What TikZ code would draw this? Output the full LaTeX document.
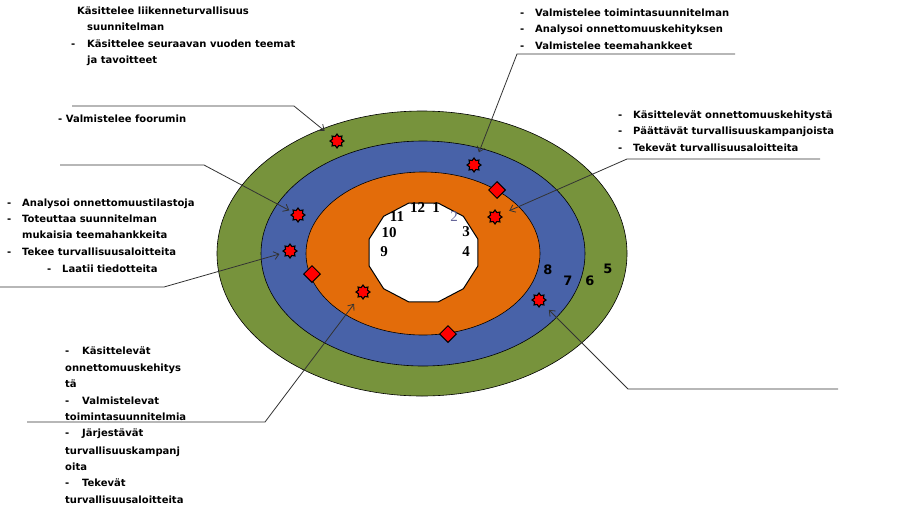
\documentclass[tikz,border=0pt]{standalone}
\usepackage{fontspec}
\setmainfont{DejaVu Sans}
\newfontfamily\numserif{Liberation Serif}
\usetikzlibrary{shapes.geometric,arrows.meta}
\definecolor{ringgreen}{HTML}{77933C}
\definecolor{ringblue}{HTML}{4862A8}
\definecolor{ringorange}{HTML}{E36C0A}
\definecolor{linegray}{HTML}{333333}
\newcommand{\dsh}{\makebox[15pt][l]{-}}
\tikzset{
  lbl/.style={anchor=base west,inner sep=0pt,font=\fontsize{10}{11}\selectfont\bfseries},
  numS/.style={inner sep=0pt,font=\fontsize{15}{15}\selectfont\numserif\bfseries},
  numD/.style={inner sep=0pt,font=\fontsize{13}{13}\selectfont\bfseries},
  starmark/.style={star,star points=8,star point ratio=1.45,minimum size=14pt,inner sep=0pt,fill=red,draw=black,line width=1.1pt},
  diamark/.style={diamond,minimum size=17pt,inner sep=0pt,fill=red,draw=black,line width=1pt},
  conn/.style={draw=linegray,line width=0.8pt,-{Straight Barb[length=5pt,width=8pt]}},
  ring/.style={draw=black,line width=0.6pt}
}
\begin{document}
\begin{tikzpicture}[x=1pt,y=-1pt]
\useasboundingbox[fill=white] (0,0) rectangle (904,507);
% rings
\path[ring,fill=ringgreen] (422,253.5) ellipse [x radius=205,y radius=142.5];
\path[ring,fill=ringblue] (423,253.5) ellipse [x radius=162,y radius=112.5];
\path[ring,fill=ringorange] (423,253.5) ellipse [x radius=117,y radius=81.5];
\draw[fill=white,line width=1pt]
  (423.5,252.5) +(15:56.4 and 51.2) -- +(45:56.4 and 51.2) -- +(75:56.4 and 51.2) -- +(105:56.4 and 51.2)
  -- +(135:56.4 and 51.2) -- +(165:56.4 and 51.2) -- +(195:56.4 and 51.2) -- +(225:56.4 and 51.2)
  -- +(255:56.4 and 51.2) -- +(285:56.4 and 51.2) -- +(315:56.4 and 51.2) -- +(345:56.4 and 51.2) -- cycle;
% clock numbers
\node[numS] (n12) at (417.5,208) {12};
\node[numS] (n1) at (436,208) {1};
\node[numS,font=\fontsize{15}{15}\selectfont\numserif,text=gray!80!blue] (n2) at (454,217) {2};
\node[numS] (n3) at (466,232) {3};
\node[numS] (n4) at (466,252) {4};
\node[numS] (n11) at (397,217) {11};
\node[numS] (n10) at (389,233) {10};
\node[numS] (n9) at (384,252) {9};
\node[numD] (n8) at (548,270) {8};
\node[numD] (n7) at (568,281) {7};
\node[numD] (n6) at (590,281) {6};
\node[numD] (n5) at (608,269) {5};
% markers
\node[starmark] (s1) at (337,141) {};
\node[starmark] (s2) at (474,165) {};
\node[starmark] (s3) at (495,217) {};
\node[starmark] (s4) at (298,215) {};
\node[starmark] (s5) at (290,251) {};
\node[starmark] (s6) at (363,292) {};
\node[starmark] (s7) at (539,300) {};
\node[diamark] (d1) at (497,190) {};
\node[diamark] (d2) at (312,274) {};
\node[diamark] (d3) at (448,334) {};
% text: top left
\node[lbl] (tl1) at (77,14.5) {Käsittelee liikenneturvallisuus};
\node[lbl] (tl2) at (87,30.5) {suunnitelman};
\node[lbl] (tl3) at (71,47.5) {\makebox[16pt][l]{-}Käsittelee seuraavan vuoden teemat};
\node[lbl] (tl4) at (87,63.5) {ja tavoitteet};
\node[lbl] (fo) at (58,122.5) {- Valmistelee foorumin};
% text: top right
\node[lbl] (tr1) at (520,16.5) {\dsh Valmistelee toimintasuunnitelman};
\node[lbl] (tr2) at (520,32.5) {\dsh Analysoi onnettomuuskehityksen};
\node[lbl] (tr3) at (520,49.5) {\dsh Valmistelee teemahankkeet};
% text: right
\node[lbl] (r1) at (618,118.5) {\dsh Käsittelevät onnettomuuskehitystä};
\node[lbl] (r2) at (618,134.5) {\dsh Päättävät turvallisuuskampanjoista};
\node[lbl] (r3) at (618,151.5) {\dsh Tekevät turvallisuusaloitteita};
% text: left
\node[lbl] (l1) at (7,206.5) {\dsh Analysoi onnettomuustilastoja};
\node[lbl] (l2) at (7,222.5) {\dsh Toteuttaa suunnitelman};
\node[lbl] (l3) at (22,238.5) {mukaisia teemahankkeita};
\node[lbl] (l4) at (7,255.5) {\dsh Tekee turvallisuusaloitteita};
\node[lbl] (l5) at (47,272.5) {\dsh Laatii tiedotteita};
% text: bottom left
\node[lbl] (b1) at (65,354.5) {\makebox[17pt][l]{-}Käsittelevät};
\node[lbl] (b2) at (65,371.5) {onnettomuuskehitys};
\node[lbl] (b3) at (65,387.5) {tä};
\node[lbl] (b4) at (65,404.5) {\makebox[17pt][l]{-}Valmistelevat};
\node[lbl] (b5) at (65,420.5) {toimintasuunnitelmia};
\node[lbl] (b6) at (65,436.5) {\makebox[17pt][l]{-}Järjestävät};
\node[lbl] (b7) at (65,454.5) {turvallisuuskampanj};
\node[lbl] (b8) at (65,470.5) {oita};
\node[lbl] (b9) at (65,486.5) {\makebox[17pt][l]{-}Tekevät};
\node[lbl] (b10) at (65,503) {turvallisuusaloitteita};
% connector coordinates
\coordinate (c1a) at (72,106);   \coordinate (c1b) at (294,106);
\coordinate (c2a) at (60,165);   \coordinate (c2b) at (204,165);
\coordinate (c3a) at (0,287);    \coordinate (c3b) at (164,287);
\coordinate (c4a) at (735,54);   \coordinate (c4b) at (517,54);
\coordinate (c5a) at (820,159);  \coordinate (c5b) at (627,159);
\coordinate (c6a) at (838,389);  \coordinate (c6b) at (628,389);
\coordinate (c7a) at (27,422);   \coordinate (c7b) at (265,422);
% connectors
\draw[conn,shorten >=9pt] (c1a) -- (c1b) -- (s1);
\draw[conn,shorten >=4pt] (c2a) -- (c2b) -- (s4);
\draw[conn,shorten >=5pt] (c3a) -- (c3b) -- (s5);
\draw[conn,shorten >=8pt] (c4a) -- (c4b) -- (s2);
\draw[conn,shorten >=10pt] (c5a) -- (c5b) -- (s3);
\draw[conn,shorten >=6pt] (c6a) -- (c6b) -- (s7);
\draw[conn,shorten >=8pt] (c7a) -- (c7b) -- (s6);
\end{tikzpicture}
\end{document}
